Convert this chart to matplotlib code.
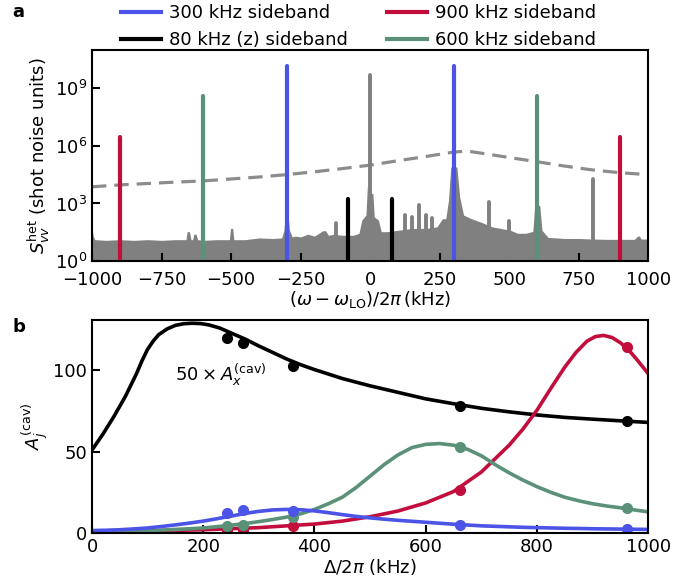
import numpy as np
from matplotlib import pyplot as plt

plt.rcParams['font.family'] = ['DejaVu Sans']
plt.rcParams['font.size'] = 13
plt.rcParams['mathtext.fontset'] = 'dejavusans'

blue = '#4b54e6'
red = '#c20e3d'
green = '#5a9178'
gray = '#808080'

# ---- panel a : heterodyne spectrum ----
floor_f = [-1000, -996, -990, -950, -900, -850, -800, -750, -700, -662, -658, -650, -644,
           -638, -634, -626, -620, -600, -550, -506, -502, -494, -490, -450, -400, -350,
           -318, -310, -304, -296, -290, -280, -270, -250, -225, -200, -170, -160, -150,
           -130, -100, -60, -40, -30, -15, -10, -3, 3, 10, 15, 30, 40, 60, 100, 150, 200,
           240, 260, 272, 282, 290, 296, 304, 312, 322, 336, 360, 396, 440, 470, 505,
           530, 560, 585, 592, 596, 604, 610, 618, 640, 700, 750, 800, 850, 900, 950,
           962, 968, 975, 1000]
floor_v = [60, 20, 13, 12, 13, 12, 13, 12, 13, 13, 34, 34, 13,
           13, 25, 25, 13, 12, 13, 13, 50, 50, 13, 13, 16, 15,
           16, 40, 370, 370, 40, 18, 20, 18, 25, 20, 38, 38, 22,
           25, 22, 22, 28, 135, 250, 7400, 7400, 3300, 3300, 200, 135, 34, 34, 40, 50, 50,
           60, 160, 160, 1500, 8e4, 8e4, 8e4, 8e4, 2200, 250, 170, 110, 60, 50, 40,
           28, 28, 35, 800, 800, 800, 800, 40, 17, 15, 15, 14, 13.5, 13.5, 13.5,
           20, 20, 14, 14]

spike_f = [0, 803, 426, 176, 126, 152, 200, 222, 501, -122]
spike_h = [4.9e9, 2e4, 1200, 800, 250, 200, 250, 170, 125, 92]

sideband_f = [-300, 300, -600, 600, -900, 900, -80, 80]
sideband_h = [1.4e10, 1.4e10, 4e8, 4e8, 2.9e6, 2.9e6, 1.7e3, 1.7e3]
sideband_c = [blue, blue, green, green, red, red, 'k', 'k']

cavity_f = [-1000, -900, -800, -700, -600, -500, -400, -300, -200, -100, 0, 100, 200,
            300, 350, 400, 500, 600, 700, 800, 900, 1000]
cavity_v = [7.4e3, 9.3e3, 1.1e4, 1.3e4, 1.5e4, 1.9e4, 2.4e4, 3.2e4, 4.5e4, 6.6e4, 1e5,
            1.7e5, 2.8e5, 4.8e5, 5.4e5, 4.2e5, 2.5e5, 1.5e5, 8.9e4, 5.6e4, 4e4, 3.2e4]

# ---- panel b : cavity amplitudes ----
black_delta = [0, 20, 40, 60, 80, 90, 100, 110, 120, 135, 150, 165, 180, 195, 210, 230,
               250, 275, 300, 325, 350, 375, 400, 450, 500, 550, 600, 650, 700, 750, 800,
               850, 900, 950, 1000]
black_fit = [51, 61, 72, 84, 98, 106, 113, 118, 122, 125.5, 127.7, 128.7, 129, 128.8, 128,
             126, 123, 119.3, 115, 111, 107, 103.5, 100.5, 95, 90.5, 86.5, 82.5, 79.5, 76.7,
             74.5, 72.6, 71.1, 70, 69, 68]

delta_fit = list(range(0, 1001, 25))
blue_fit = [1.5, 1.7, 2.0, 2.5, 3.1, 4.0, 5.0, 6.1, 7.3, 8.8, 10.4, 12.0, 13.3, 14.2, 14.5,
            14.3, 13.6, 12.5, 11.3, 10.2, 9.3, 8.5, 7.8, 7.2, 6.6, 6.0, 5.4, 4.9, 4.4, 4.1,
            3.8, 3.5, 3.3, 3.1, 2.9, 2.8, 2.6, 2.5, 2.4, 2.3, 2.2]
green_fit = [1.0, 1.1, 1.2, 1.35, 1.5, 1.8, 2.2, 2.6, 3.1, 3.9, 4.8, 5.8, 7.0, 8.3, 9.8, 11.8,
             14.5, 18, 22, 28, 35, 42, 48, 52.5, 54.5, 55, 54, 51.5, 47.5, 42, 37, 32.5,
             28.5, 25, 22, 19.8, 18, 16.6, 15.5, 14.2, 13]

red_delta = [0, 100, 200, 300, 400, 450, 500, 550, 600, 650, 700, 750, 775, 800, 825, 850,
             870, 890, 905, 920, 935, 950, 965, 980, 1000]
red_fit = [0.8, 1.2, 2.0, 3.3, 5.5, 7.3, 10, 13.5, 18.5, 25.5, 37.5, 54, 64, 75.5, 89, 102,
           111, 118, 120.8, 121.5, 120.2, 117, 112.5, 106.5, 98]

delta_pts = [242, 272, 362, 662, 962]
black_pts = [119.7, 116.6, 103, 78.2, 68.9]
blue_pts = [12.4, 14.1, 13.5, 4.8, 2.5]
green_pts = [4.2, 5.2, 10.0, 52.9, 15.6]
red_pts = [2.1, 2.1, 4.2, 26.6, 114.5]

fig = plt.figure(figsize=(6.97, 5.82), dpi=100)
ax1 = fig.add_axes([0.132, 0.5515, 0.798, 0.3625])
ax2 = fig.add_axes([0.132, 0.0842, 0.798, 0.366])

ax1.fill_between(floor_f, 1, floor_v, color=gray, lw=0)
for f, h in zip(spike_f, spike_h):
    ax1.plot([f, f], [1, h], color=gray, lw=2.8, solid_capstyle='round')
ax1.plot(cavity_f, cavity_v, color=gray, lw=2.3, ls=(0, (4.5, 2.5)), alpha=0.9)
for f, h, c in zip(sideband_f, sideband_h, sideband_c):
    ax1.plot([f, f], [1, h], color=c, lw=3, solid_capstyle='round')

ax1.set_yscale('log')
ax1.set_xlim(-1000, 1000)
ax1.set_ylim(1, 1e11)
ax1.set_xticks([-1000, -750, -500, -250, 0, 250, 500, 750, 1000])
ax1.set_yticks([1, 1e3, 1e6, 1e9])
ax1.minorticks_off()
ax1.set_xlabel(r'$(\omega-\omega_{\mathrm{LO}})/2\pi\,$(kHz)', labelpad=0)
ax1.set_ylabel(r'$S_{vv}^{\mathrm{het}}$ (shot noise units)', labelpad=2)

h300, = ax1.plot([], [], color=blue, lw=3, label='300 kHz sideband')
h80, = ax1.plot([], [], color='k', lw=3, label='80 kHz (z) sideband')
h900, = ax1.plot([], [], color=red, lw=3, label='900 kHz sideband')
h600, = ax1.plot([], [], color=green, lw=3, label='600 kHz sideband')
fig.legend(handles=[h300, h80, h900, h600], loc='upper left', bbox_to_anchor=(0.161, 1.0086),
           ncol=2, frameon=False, borderpad=0, handlelength=2.2, handletextpad=0.45,
           columnspacing=2.15, labelspacing=0.5, fontsize=13)

ax2.plot(black_delta, black_fit, color='k', lw=2.6)
ax2.plot(red_delta, red_fit, color=red, lw=2.6)
ax2.plot(delta_fit, green_fit, color=green, lw=2.6)
ax2.plot(delta_fit, blue_fit, color=blue, lw=2.6)
ax2.plot(delta_pts, black_pts, 'o', color='k', ms=7)
ax2.plot(delta_pts, red_pts, 'o', color=red, ms=7)
ax2.plot(delta_pts, green_pts, 'o', color=green, ms=7)
ax2.plot(delta_pts, blue_pts, 'o', color=blue, ms=7)
ax2.text(149, 97, r'$50\times A_x^{(\mathrm{cav})}$', ha='left', va='center', fontsize=13)
ax2.set_xlim(0, 1000)
ax2.set_ylim(0, 131)
ax2.set_xticks([0, 200, 400, 600, 800, 1000])
ax2.set_yticks([0, 50, 100])
ax2.set_xlabel(r'$\Delta/2\pi$ (kHz)', labelpad=1)
ax2.set_ylabel(r'$A_j^{(\mathrm{cav})}$', labelpad=2)

for ax in (ax1, ax2):
    ax.tick_params(direction='in', length=6, width=1.5, labelsize=13)
    for s in ax.spines.values():
        s.set_linewidth(1.5)
ax1.tick_params(axis='x', pad=7)

fig.text(0.018, 0.995, 'a', fontweight='bold', fontsize=13, va='top')
fig.text(0.018, 0.454, 'b', fontweight='bold', fontsize=13, va='top')

plt.savefig('out.png', dpi=100)
